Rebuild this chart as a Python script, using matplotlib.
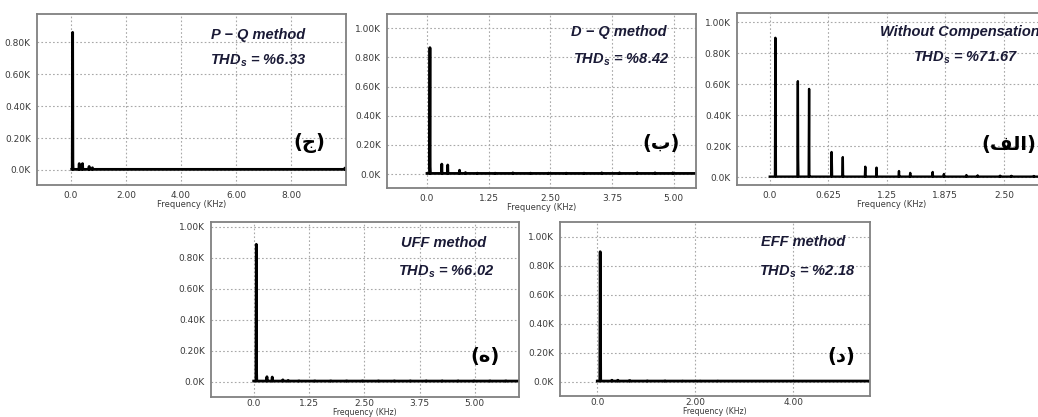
import numpy as np
import matplotlib
matplotlib.use("Agg")
import matplotlib.pyplot as plt

plt.rcParams["mathtext.fontset"] = "custom"
plt.rcParams["mathtext.it"] = "Liberation Sans:bold:italic"
plt.rcParams["mathtext.rm"] = "Liberation Sans:bold:italic"

# ---------------- data (amplitudes in K) ----------------
# (ج) P-Q method
pq_freq = [0.06, 0.30, 0.42, 0.66, 0.78, 9.96]
pq_amp = [0.862, 0.040, 0.040, 0.022, 0.014, 0.012]
pq_shoulder = [0.05, 0.0, 0.0, 0.0, 0.0, 0.0]
pq_xticks = [0.0, 2.0, 4.0, 6.0, 8.0]
pq_xticklabels = ["0.0", "2.00", "4.00", "6.00", "8.00"]
pq_yticks = [0.0, 0.2, 0.4, 0.6, 0.8]
pq_yticklabels = ["0.0K", "0.20K", "0.40K", "0.60K", "0.80K"]

# (ب) D-Q method
dq_freq = [0.06, 0.30, 0.42, 0.66, 0.78, 1.02, 1.38, 1.74, 2.10, 2.46, 2.82, 3.18, 3.54, 3.90, 4.26, 4.62, 4.98]
dq_amp = [0.867, 0.068, 0.062, 0.026, 0.010, 0.006, 0.006, 0.008, 0.006, 0.006, 0.006, 0.006, 0.008, 0.008, 0.008, 0.008, 0.008]
dq_shoulder = [0.05] + [0.0] * 16
dq_xticks = [0.0, 1.25, 2.50, 3.75, 5.00]
dq_xticklabels = ["0.0", "1.25", "2.50", "3.75", "5.00"]

# (الف) Without compensation
wc_freq = [0.06, 0.30, 0.42, 0.66, 0.78, 1.02, 1.14, 1.38, 1.50, 1.74, 1.86, 2.10, 2.22, 2.46, 2.58, 2.82]
wc_amp = [0.900, 0.620, 0.570, 0.163, 0.130, 0.068, 0.062, 0.040, 0.028, 0.034, 0.021, 0.014, 0.012, 0.010, 0.009, 0.008]
wc_shoulder = [0.50, 0.12, 0.0, 0.10, 0.0, 0.0, 0.0, 0.0, 0.0, 0.0, 0.0, 0.0, 0.0, 0.0, 0.0, 0.0]
wc_xticks = [0.0, 0.625, 1.25, 1.875, 2.50]
wc_xticklabels = ["0.0", "0.625", "1.25", "1.875", "2.50"]

# (ه) UFF method
uff_freq = [0.06, 0.30, 0.42, 0.66, 0.78, 1.02, 1.38, 1.74, 2.10, 2.46, 2.82, 3.18, 3.54, 3.90, 4.26, 4.62, 4.98, 5.34, 5.70]
uff_amp = [0.888, 0.032, 0.030, 0.012, 0.008] + [0.006] * 14
uff_shoulder = [0.07] + [0.0] * 18
uff_xticks = [0.0, 1.25, 2.50, 3.75, 5.00]
uff_xticklabels = ["0.0", "1.25", "2.50", "3.75", "5.00"]

# (د) EFF method
eff_freq = [0.06, 0.30, 0.42, 0.66, 1.02, 1.38, 1.74, 2.10, 2.46]
eff_amp = [0.897, 0.010, 0.010, 0.008, 0.006, 0.006, 0.005, 0.005, 0.005]
eff_shoulder = [0.57] + [0.0] * 8
eff_xticks = [0.0, 2.0, 4.0]
eff_xticklabels = ["0.0", "2.00", "4.00"]

full_yticks = [0.0, 0.2, 0.4, 0.6, 0.8, 1.0]
full_yticklabels = ["0.0K", "0.20K", "0.40K", "0.60K", "0.80K", "1.00K"]

W, H = 1038, 417
fig = plt.figure(figsize=(W / 100, H / 100), dpi=100)


def add_axes_px(x0, y0, x1, y1):
    return fig.add_axes([x0 / W, 1 - y1 / H, (x1 - x0) / W, (y1 - y0) / H])


def spectrum(freqs, amps, shoulders, start, end, d):
    xs, ys = [start], [0.004]
    for f, a, s in zip(freqs, amps, shoulders):
        xs += [f - d, f, f + 0.6 * d, f + 1.2 * d]
        ys += [0.004, a, max(s, 0.004), 0.004]
    xs.append(end)
    ys.append(0.004)
    return xs, ys


TEXT_C = "#1a1a36"
LFONT = ["Liberation Sans", "DejaVu Sans"]


def style(ax, xlim, ylim, xticks, xtl, yticks, ytl, bottom_row=False):
    ax.set_xlim(*xlim)
    ax.set_ylim(*ylim)
    ax.set_xticks(xticks)
    ax.set_xticklabels(xtl)
    ax.set_yticks(yticks)
    ax.set_yticklabels(ytl)
    ax.tick_params(length=0, labelsize=6.5, labelcolor="#3a3a3a", pad=4.5)
    ax.tick_params(axis="x", pad=2 if bottom_row else 4)
    ax.grid(True, color="#a8a8a8", linestyle=(0, (1.5, 2)), linewidth=0.8)
    ax.set_axisbelow(True)
    for sp in ax.spines.values():
        sp.set_color("#808080")
        sp.set_linewidth(1.3)
    ax.set_xlabel("Frequency (KHz)", fontsize=5.6 if bottom_row else 6.0,
                  color="#3a3a3a", labelpad=-0.3 if bottom_row else 0)


def labels(ax, l1, l2, p1, p2, ar, pa, l1_ha="center", ar_ha="center"):
    ax.text(p1[0], p1[1], l1, transform=ax.transAxes, ha=l1_ha, va="center",
            fontsize=10.5, fontweight="bold", fontstyle="italic", color=TEXT_C,
            family=LFONT)
    ax.text(p2[0], p2[1], l2, transform=ax.transAxes, ha="center", va="center",
            fontsize=10.5, fontweight="bold", fontstyle="italic", color=TEXT_C,
            family=LFONT)
    ax.text(pa[0], pa[1], ar, transform=ax.transAxes, ha=ar_ha, va="center",
            fontsize=14, fontweight="bold", color="black", family=["DejaVu Sans"])


# (ج) P-Q method
ax = add_axes_px(37, 14, 346, 185)
xs, ys = spectrum(pq_freq, pq_amp, pq_shoulder, 0.03, 10.0, 0.015)
ax.plot(xs, ys, color="black", lw=2.0)
style(ax, (-1.236, 10.0), (-0.094, 0.977), pq_xticks, pq_xticklabels, pq_yticks, pq_yticklabels)
labels(ax, "P − Q method", "THD$_s$ = %6.33", (0.715, 0.877), (0.715, 0.725),
       "(\uFE9D)", (0.8825, 0.2456))

# (ب) D-Q method
ax = add_axes_px(387, 14, 696, 188)
xs, ys = spectrum(dq_freq, dq_amp, dq_shoulder, 0.0, 5.45, 0.008)
ax.plot(xs, ys, color="black", lw=2.0)
style(ax, (-0.81, 5.45), (-0.096, 1.098), dq_xticks, dq_xticklabels, full_yticks, full_yticklabels)
labels(ax, "D − Q method", "THD$_s$ = %8.42", (0.749, 0.898), (0.757, 0.736),
       "(\uFE8F)", (0.888, 0.253))

# (الف) Without compensation
ax = add_axes_px(737, 13.3, 1046, 185)
xs, ys = spectrum(wc_freq, wc_amp, wc_shoulder, 0.0, 2.95, 0.0045)
ax.plot(xs, ys, color="black", lw=1.7)
style(ax, (-0.35, 2.95), (-0.05, 1.058), wc_xticks, wc_xticklabels, full_yticks, full_yticklabels)
labels(ax, "Without Compensation", "THD$_s$ = %71.67", (0.463, 0.893), (0.741, 0.742),
       "(\uFED2\uFEDF\uFE8D)", (0.968, 0.233), l1_ha="left", ar_ha="right")

# (ه) UFF method
ax = add_axes_px(211, 221.7, 519, 396.7)
xs, ys = spectrum(uff_freq, uff_amp, uff_shoulder, 0.0, 6.0, 0.009)
ax.plot(xs, ys, color="black", lw=2.0)
style(ax, (-0.965, 6.0), (-0.097, 1.034), uff_xticks, uff_xticklabels, full_yticks,
      full_yticklabels, bottom_row=True)
labels(ax, "UFF method", "THD$_s$ = %6.02", (0.754, 0.877), (0.763, 0.711),
       "(\uFEE9)", (0.890, 0.229))

# (د) EFF method
ax = add_axes_px(560.3, 222.3, 870, 395.7)
xs, ys = spectrum(eff_freq, eff_amp, eff_shoulder, 0.0, 5.57, 0.008)
ax.plot(xs, ys, color="black", lw=2.0)
style(ax, (-0.755, 5.57), (-0.097, 1.1), eff_xticks, eff_xticklabels, full_yticks,
      full_yticklabels, bottom_row=True)
labels(ax, "EFF method", "THD$_s$ = %2.18", (0.784, 0.885), (0.797, 0.715),
       "(\uFEA9)", (0.906, 0.225))

fig.savefig("out.png", dpi=100)
